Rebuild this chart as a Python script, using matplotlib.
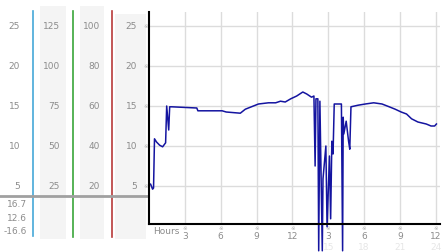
#!/usr/bin/env python3
import matplotlib
matplotlib.use('Agg')
import matplotlib.pyplot as plt
from matplotlib.transforms import blended_transform_factory

# dew point trace, hours since midnight
hours = [0.0, 0.13, 0.3, 0.38, 0.46, 0.63, 0.89, 1.14, 1.39, 1.48, 1.65, 1.73,
         1.9, 4.0, 4.09, 6.12, 6.46, 7.64, 8.06, 9.16, 10.0, 10.6, 11.0, 11.4,
         11.86, 12.36, 12.87, 13.2, 13.6, 13.8, 13.9, 13.97, 14.13, 14.2, 14.3,
         14.5, 14.56, 14.8, 14.9, 15.1, 15.2, 15.3, 15.4, 15.5, 16.1, 16.2,
         16.25, 16.3, 16.5, 16.7, 16.8, 16.9, 17.2, 17.5, 18.1, 18.8, 19.5,
         20.1, 20.6, 21.1, 21.55, 21.97, 22.5, 23.2, 23.6, 23.9, 24.05]
dew_point = [5.1, 5.25, 4.6, 4.75, 10.9, 10.5, 10.1, 9.9, 10.4, 15.0, 12.0, 14.9,
             14.9, 14.75, 14.4, 14.4, 14.25, 14.1, 14.6, 15.25, 15.4, 15.4, 15.6,
             15.5, 15.9, 16.25, 16.75, 16.5, 16.1, 16.25, 7.5, 15.9, 15.9, -3.1,
             15.6, -3.1, 5.9, 10.0, -0.1, 8.75, 0.9, 10.6, 9.0, 15.25, 15.25,
             -3.1, 13.6, 11.5, 13.1, 10.6, 9.6, 14.9, 15.0, 15.1, 15.25, 15.4,
             15.25, 14.9, 14.6, 14.25, 14.0, 13.4, 13.0, 12.75, 12.5, 12.5, 12.75]

hour_ticks = [3, 6, 9, 12, 15, 18, 21, 24]
hour_labels = ['3', '6', '9', '12', '3', '6', '9', '12']
day_hour_labels = ['', '', '', '', '15', '18', '21', '24']

scale_ticks = [25, 20, 15, 10, 5]
col1_labels = ['25', '20', '15', '10', '5']
col2_labels = ['125', '100', '75', '50', '25']
col3_labels = ['100', '80', '60', '40', '20']
col4_labels = ['25', '20', '15', '10', '5']
summary_labels = ['16.7', '12.6', '-16.6']

W, H = 442, 253
GREY = '#8c8c8c'
FS = 6.5


def main():
    fig = plt.figure(figsize=(W / 100, H / 100), dpi=100)

    # pixel overlay for the side panel
    pax = fig.add_axes([0, 0, 1, 1])
    pax.set_xlim(0, W)
    pax.set_ylim(H, 0)
    pax.axis('off')

    ax = fig.add_axes([149 / W, (H - 225) / H, 291 / W, 212 / H])
    ax.set_xlim(0, 24.35)
    ax.set_ylim(0.25, 26.75)

    # side panel strips and coloured rules
    for x0, x1, top in [(40, 66, 7), (80, 104, 7), (115, 146, 15)]:
        pax.fill_between([x0, x1], [top, top], [240, 240], color='#f4f4f4', lw=0)
    pax.plot([33, 33], [12, 237], color='#45a8d8', lw=1.2)
    pax.plot([72.5, 72.5], [12, 238], color='#3aa63a', lw=1.2)
    pax.plot([111.5, 111.5], [12, 238], color='#b83a3a', lw=1.2)
    pax.plot([0, 149], [197, 197], color='#a0a0a0', lw=2)

    ty = blended_transform_factory(pax.transData, ax.transData)
    for v, a, b, c, d in zip(scale_ticks, col1_labels, col2_labels,
                             col3_labels, col4_labels):
        pax.text(20, v, a, transform=ty, ha='right', va='center', fontsize=FS, color=GREY)
        pax.text(60, v, b, transform=ty, ha='right', va='center', fontsize=FS, color=GREY)
        pax.text(100, v, c, transform=ty, ha='right', va='center', fontsize=FS, color=GREY)
        pax.text(137, v, d, transform=ty, ha='right', va='center', fontsize=FS, color=GREY)
        pax.text(145.5, v, '\u203b', transform=ty, ha='center', va='center',
                 fontsize=4, color='#b0b0b0')

    for yp, s in zip([205, 219, 232], summary_labels):
        pax.text(27, yp, s, ha='right', va='center', fontsize=FS, color=GREY)

    # main plot
    for side in ['top', 'right']:
        ax.spines[side].set_visible(False)
    ax.spines['left'].set_linewidth(1.5)
    ax.spines['bottom'].set_linewidth(1.5)
    ax.set_yticks(scale_ticks)
    ax.set_yticklabels([])
    ax.set_xticks(hour_ticks)
    ax.set_xticklabels(hour_labels)
    ax.tick_params(length=0, labelsize=FS, labelcolor=GREY, pad=5)
    ax.grid(color='#dcdcdc', lw=1)
    ax.set_axisbelow(True)

    tx = blended_transform_factory(ax.transData, pax.transData)
    for h, s in zip(hour_ticks, day_hour_labels):
        pax.text(h, 229, '\u203b', transform=tx, ha='center', va='center',
                 fontsize=4, color='#b0b0b0')
        pax.text(h, 247.5, s, transform=tx, ha='center', va='center',
                 fontsize=FS, color='#e6e6e6')
    pax.text(153, 232, 'Hours', ha='left', va='center', fontsize=FS, color=GREY)

    ax.plot(hours, dew_point, color='#1414a0', lw=1.1, clip_on=False)

    # legend
    pax.plot([160], [20], 'o', ms=4, color='#b0b0b0', mec='#909090', mew=0.6)
    pax.text(165, 20, 'Dew Point 09/26/10', ha='left', va='center',
             fontsize=FS, color='#2233aa')

    fig.savefig('out.png', dpi=100)


if __name__ == '__main__':
    main()
